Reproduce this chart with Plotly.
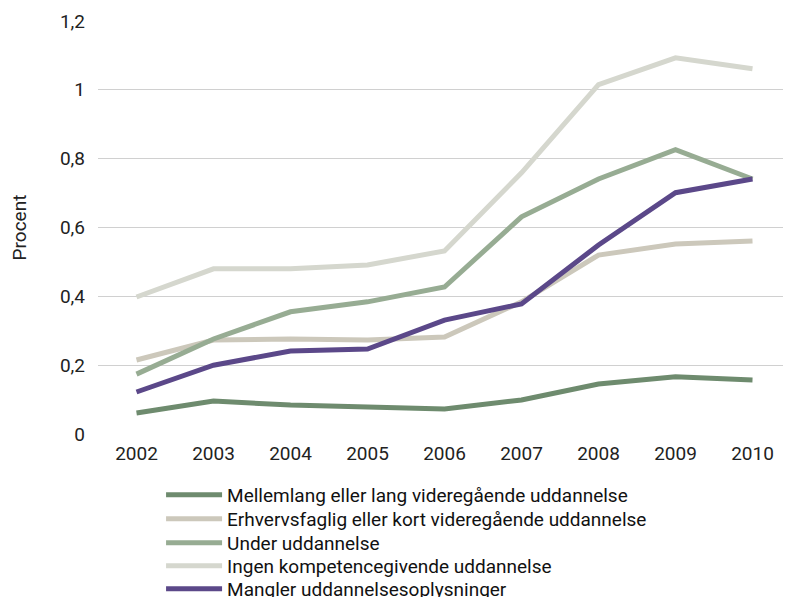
import plotly.graph_objects as go

years = ["2002", "2003", "2004", "2005", "2006", "2007", "2008", "2009", "2010"]

mellemlang = [0.061, 0.096, 0.084, 0.078, 0.073, 0.099, 0.145, 0.166, 0.157]
erhvervsfaglig = [0.215, 0.273, 0.276, 0.273, 0.282, 0.384, 0.520, 0.552, 0.561]
under_udd = [0.174, 0.276, 0.355, 0.384, 0.427, 0.631, 0.741, 0.826, 0.741]
ingen = [0.398, 0.480, 0.480, 0.491, 0.532, 0.759, 1.015, 1.093, 1.061]
mangler = [0.122, 0.200, 0.241, 0.247, 0.331, 0.378, 0.549, 0.701, 0.741]

series = [
    ("Mellemlang eller lang videregående uddannelse", mellemlang, "#6e8b6e"),
    ("Erhvervsfaglig eller kort videregående uddannelse", erhvervsfaglig, "#ccc8bb"),
    ("Under uddannelse", under_udd, "#97ac93"),
    ("Ingen kompetencegivende uddannelse", ingen, "#d5d7ce"),
    ("Mangler uddannelsesoplysninger", mangler, "#5b4889"),
]

font_name = "Roboto, Noto Sans, sans-serif"

fig = go.Figure()
# one legend per series so the rows can sit tighter than plotly's default spacing
legend_ids = ["legend", "legend2", "legend3", "legend4", "legend5"]
row_y = [-0.1477, -0.2058, -0.2639, -0.3196, -0.3753]
legends = {}
for (name, vals, col), lid, ry in zip(series, legend_ids, row_y):
    fig.add_trace(go.Scatter(x=years, y=vals, name=name, mode="lines",
                             line=dict(color=col, width=5), legend=lid))
    legends[lid] = dict(x=0.091, y=ry, xanchor="left", yanchor="middle",
                        font=dict(family=font_name, size=19, color="#111111"),
                        itemwidth=56, bgcolor="rgba(0,0,0,0)")

# page body has an 8px margin, so the figure is a bit smaller than the window
fig.update_layout(
    width=783, height=589,
    margin=dict(l=90, r=0, t=13, b=163, autoexpand=False),
    plot_bgcolor="white", paper_bgcolor="white",
    separators=",.",
    font=dict(family=font_name, size=19, color="#222222"),
    showlegend=True,
    xaxis=dict(type="category", range=[-0.5, 8.5], showgrid=False,
               zeroline=False, showline=False, ticks="", automargin=False,
               ticklabelstandoff=6, tickfont=dict(size=19)),
    yaxis=dict(range=[0, 1.2], dtick=0.2, showgrid=True, gridcolor="#d0d0d0",
               gridwidth=1, zeroline=False, showline=False, ticks="",
               automargin=False, ticklabelstandoff=12,
               title=dict(text="Procent", font=dict(size=19), standoff=30),
               tickfont=dict(size=19)),
    **legends,
)

fig.write_html("out.html")
